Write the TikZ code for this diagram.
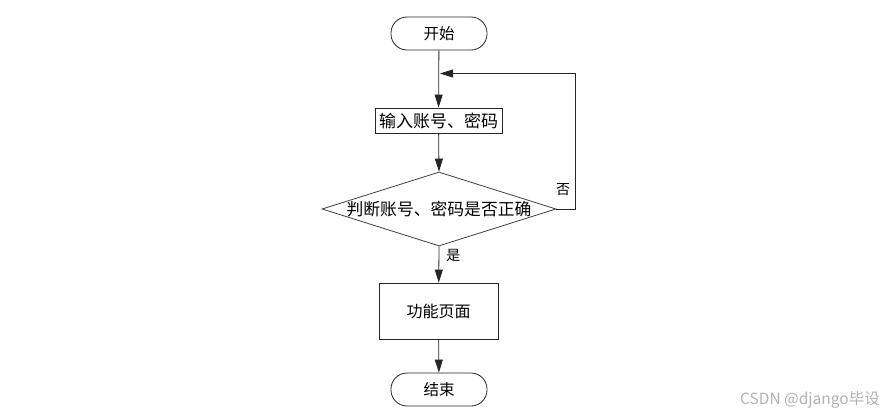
\documentclass[tikz,border=0pt]{standalone}
\usepackage{fontspec}
\setmainfont{Noto Sans CJK SC}
\usetikzlibrary{shapes.geometric,arrows.meta}
\begin{document}
\begin{tikzpicture}[x=1pt,y=-1pt,
  every node/.style={inner sep=0pt},
  term/.style={draw=black!85, line width=0.8pt, rounded corners=16pt, minimum width=96pt, minimum height=33pt, font=\fontsize{15.5}{18}\selectfont},
  proc/.style={draw=black!85, line width=0.8pt},
  dec/.style={draw=black!75, line width=0.8pt, diamond, aspect=3.16, minimum width=234pt, minimum height=74pt},
  flow/.style={draw=black!85, line width=0.8pt, -{Triangle[length=13pt,width=8pt]}},
  lbl/.style={font=\fontsize{14}{16}\selectfont}]
\useasboundingbox (0,0) rectangle (884,415);
\node[term] (start) at (439,33.5) {开始};
\node[proc, minimum width=127pt, minimum height=25pt, font=\fontsize{17}{20}\selectfont] (input) at (438.5,120.5) {输入账号、密码};
\node[dec] (check) at (439,209) {};
\node[font=\fontsize{16.8}{20}\selectfont] (checktext) at (check.center) {判断账号、密码是否正确};
\node[proc, minimum width=119pt, minimum height=56pt, font=\fontsize{16}{18}\selectfont] (func) at (438.5,311) {功能页面};
\node[term] (end) at (439,389.5) {结束};
\coordinate (loop) at (440,73.5);
\coordinate (corner1) at (575,209);
\coordinate (corner2) at (575,73.5);
\draw[flow] (start) -- (input);
\draw[flow] (input) -- (check.north);
\draw[flow] (check.south) -- node[lbl, pos=0.25, right=7pt] {是} (func);
\draw[flow] (func) -- (end);
\draw[flow] (check.east) -- (corner1) -- (corner2) -- (loop);
\node[lbl] (no) at (563,190) {否};
\node[font=\fontsize{15.5}{18}\selectfont, text=black!30, anchor=east] (wm) at (880,400) {CSDN @django毕设};
\end{tikzpicture}
\end{document}
